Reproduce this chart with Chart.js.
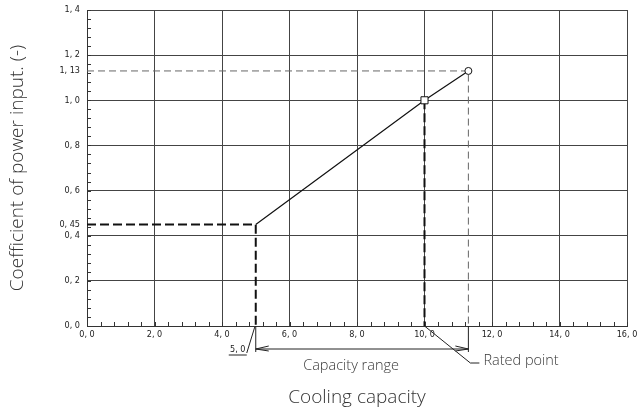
<!DOCTYPE html>
<html>
<head>
<meta charset="utf-8">
<script src="https://cdn.jsdelivr.net/npm/chart.js@4/dist/chart.umd.min.js"></script>
<style>
  html, body { margin: 0; padding: 0; background: #fff; }
  #wrap { width: 638px; height: 408px; }
</style>
</head>
<body>
<div id="wrap"><canvas id="chart" width="638" height="408"></canvas></div>
<script>
// данные графика
const xTicks = [0, 2, 4, 6, 8, 10, 12, 14, 16];
const yTicks = [0, 0.2, 0.4, 0.45, 0.6, 0.8, 1.0, 1.13, 1.2, 1.4];
const yExtraTicks = [0.45, 1.13];          // подписанные, но без сетки
const curveX = [5.0, 10.0, 11.3];          // мин., номинал, макс.
const curveY = [0.45, 1.0, 1.13];
const curvePointStyle = ['circle', 'rect', 'circle'];
const curvePointRadius = [0, 5, 3.5];
const rangeLabel = 'Capacity range';
const ratedLabel = 'Rated point';
const minLabel = '5, 0';

const fmt = v => v.toFixed(v === 1.13 || v === 0.45 ? 2 : 1).replace('.', ', ');
const tickFont = { family: '"Liberation Sans Narrow", "DejaVu Sans Condensed", sans-serif', size: 9 };
const titleFont = { family: '"Open Sans", "Noto Sans", sans-serif', size: 19, weight: '300', lineHeight: 1.0 };

// мелкие засечки внутрь + размерные линии под осью
const annot = {
  id: 'annot',
  afterDatasetsDraw(chart) {
    const { ctx, scales: { x, y }, chartArea: a } = chart;
    ctx.save();
    ctx.strokeStyle = '#333';
    ctx.lineWidth = 1;
    ctx.beginPath();
    for (let i = 0; i <= 40; i++) {
      const px = Math.round(x.getPixelForValue(i * 0.4)) + 0.5;
      ctx.moveTo(px, a.bottom); ctx.lineTo(px, a.bottom - 4);
    }
    for (let i = 0; i <= 35; i++) {
      const py = Math.round(y.getPixelForValue(i * 0.04)) + 0.5;
      ctx.moveTo(a.left, py); ctx.lineTo(a.left + 4, py);
    }
    ctx.stroke();

    const x0 = x.getPixelForValue(curveX[0]);
    const x1 = x.getPixelForValue(curveX[1]);
    const x2 = x.getPixelForValue(curveX[2]);
    const b = a.bottom;
    const dimY = b + 23;

    // выносные линии
    ctx.strokeStyle = '#222';
    ctx.beginPath();
    ctx.moveTo(x0, b); ctx.lineTo(x0, b + 26);
    ctx.moveTo(x2, b); ctx.lineTo(x2, b + 26);
    // размерная линия со стрелками
    ctx.moveTo(x0, dimY); ctx.lineTo(x2, dimY);
    ctx.moveTo(x0 + 13, dimY - 3); ctx.lineTo(x0, dimY); ctx.lineTo(x0 + 13, dimY + 2);
    ctx.moveTo(x2 - 13, dimY - 3); ctx.lineTo(x2, dimY); ctx.lineTo(x2 - 13, dimY + 2);
    // выноска "5, 0"
    ctx.moveTo(x0 - 1, b + 1); ctx.lineTo(x0 - 9, b + 27);
    ctx.moveTo(x0 - 9, b + 29); ctx.lineTo(x0 - 27, b + 29);
    // выноска номинальной точки
    ctx.moveTo(x1, b); ctx.lineTo(x2 + 2, b + 37); ctx.lineTo(x2 + 11, b + 37);
    ctx.stroke();

    ctx.fillStyle = '#222';
    ctx.font = '9px ' + tickFont.family;
    ctx.textAlign = 'center';
    ctx.textBaseline = 'bottom';
    ctx.fillText(minLabel, x0 - 18, b + 28);

    ctx.fillStyle = '#3a3a3a';
    ctx.font = '300 14.5px ' + titleFont.family;
    ctx.textBaseline = 'middle';
    ctx.fillText(rangeLabel, (x0 + x2) / 2 - 11, b + 40);
    ctx.textAlign = 'left';
    ctx.fillText(ratedLabel, x2 + 15, b + 35);
    ctx.restore();
  }
};

new Chart(document.getElementById('chart'), {
  type: 'scatter',
  data: {
    datasets: [
      {
        data: curveX.map((v, i) => ({ x: v, y: curveY[i] })),
        showLine: true,
        borderColor: '#111',
        borderWidth: 1.2,
        pointStyle: curvePointStyle,
        pointRadius: curvePointRadius,
        pointBackgroundColor: '#fff',
        pointBorderColor: '#111',
        pointBorderWidth: 1
      },
      {
        data: [{ x: 0, y: curveY[0] }, { x: curveX[0], y: curveY[0] }, { x: curveX[0], y: 0 }],
        showLine: true, borderColor: '#111', borderWidth: 2, borderDash: [9, 4], pointRadius: 0
      },
      {
        data: [{ x: curveX[1], y: curveY[1] }, { x: curveX[1], y: 0 }],
        showLine: true, borderColor: '#111', borderWidth: 2, borderDash: [9, 4], pointRadius: 0
      },
      {
        data: [{ x: 0, y: curveY[2] }, { x: curveX[2], y: curveY[2] }, { x: curveX[2], y: 0 }],
        showLine: true, borderColor: '#666', borderWidth: 1, borderDash: [7, 4], pointRadius: 0
      }
    ]
  },
  options: {
    responsive: false,
    animation: false,
    layout: { padding: { top: 10, right: 11, left: 0, bottom: 0 } },
    plugins: { legend: { display: false }, tooltip: { enabled: false } },
    scales: {
      x: {
        type: 'linear', min: 0, max: 16,
        afterBuildTicks: s => { s.ticks = xTicks.map(v => ({ value: v })); },
        afterFit: s => { s.height = 82; s.paddingLeft = 0; s.paddingRight = 0; },
        ticks: { font: tickFont, color: '#222', padding: 3, maxRotation: 0, callback: v => fmt(v) },
        grid: { color: '#444', lineWidth: 1, drawTicks: false },
        border: { color: '#333' },
        title: { display: true, text: 'Cooling capacity', font: titleFont, color: '#333', padding: { top: 0, bottom: 1 } }
      },
      y: {
        type: 'linear', min: 0, max: 1.4,
        afterBuildTicks: s => { s.ticks = yTicks.map(v => ({ value: v })); },
        afterFit: s => { s.width = 87; s.paddingTop = 0; s.paddingBottom = 0; },
        ticks: { font: tickFont, color: '#222', padding: 7, callback: v => fmt(v) },
        grid: {
          color: c => (c.tick && yExtraTicks.includes(c.tick.value)) ? 'rgba(0,0,0,0)' : '#444',
          lineWidth: 1, drawTicks: false
        },
        border: { color: '#333' },
        title: { display: true, text: 'Coefficient of power input. (-)', font: titleFont, color: '#333', padding: { top: 8, bottom: 4 } }
      }
    }
  },
  plugins: [annot]
});
</script>
</body>
</html>
